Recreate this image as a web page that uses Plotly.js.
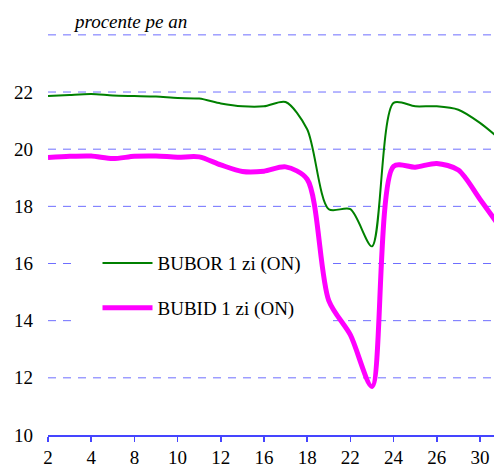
<!DOCTYPE html>
<html>
<head>
<meta charset="utf-8">
<script src="https://cdn.plot.ly/plotly-3.0.1.min.js"></script>
<style>html,body{margin:0;padding:0;background:#fff;}#chart{width:494px;height:469px;}</style>
</head>
<body>
<div id="chart"></div>
<script>
var days = ["2","3","4","7","8","9","10","11","12","15","16","17","18","19","22","23","24","25","26","29","30","31"];
var tickLabels = ["2","4","8","10","12","16","18","22","24","26","30"];
var bubor = [21.86,21.9,21.93,21.88,21.86,21.84,21.79,21.77,21.6,21.5,21.5,21.65,20.7,17.9,17.9,16.6,21.62,21.5,21.5,21.38,20.92,20.3];
var bubid = [19.71,19.75,19.76,19.67,19.75,19.76,19.72,19.73,19.45,19.22,19.23,19.38,18.95,14.7,13.5,11.7,19.4,19.37,19.5,19.27,18.25,17.2];
var yTicks = [10,12,14,16,18,20,22,24];
var yTickText = ["10","12","14","16","18","20","22",""];
var seriesNames = ["BUBOR 1 zi (ON)","BUBID 1 zi (ON)"];
var unitLabel = "procente pe an";

var serif = "Liberation Serif, Times New Roman, serif";
var fs = 19;
var traces = [
  {x: days, y: bubor, name: seriesNames[0], legendgroup: "a", type: "scatter", mode: "lines",
   line: {color: "#008000", width: 2, shape: "spline", smoothing: 0.8}},
  {x: days, y: bubid, name: seriesNames[1], legendgroup: "b", type: "scatter", mode: "lines",
   line: {color: "#ff00ff", width: 5, shape: "spline", smoothing: 0.8}}
];
var shapes = yTicks.slice(1).map(function (v) {
  return {type: "line", layer: "below", xref: "x domain", yref: "y", x0: 0, x1: 1, y0: v, y1: v,
    line: {color: "#6e6eff", width: 1, dash: "8px,7px"}};
});
shapes.push({type: "rect", layer: "below", xref: "x domain", yref: "y domain",
  x0: 0.053, x1: 0.627, y0: 0.22, y1: 0.5, fillcolor: "#ffffff", line: {width: 0}});
var layout = {
  width: 494, height: 469,
  margin: {l: 48, r: 0, t: 34, b: 34},
  paper_bgcolor: "#fff", plot_bgcolor: "#fff",
  showlegend: true,
  font: {family: serif, size: fs, color: "#000"},
  xaxis: {type: "category", range: [0, 20.65], tickmode: "array", tickvals: tickLabels, ticktext: tickLabels,
    showgrid: false, zeroline: false, showline: true, linecolor: "#4545ff", linewidth: 1.5,
    ticks: "outside", ticklen: 5, tickcolor: "#4545ff", tickwidth: 1.5,
    tickfont: {family: serif, size: fs, color: "#000"}, fixedrange: true},
  yaxis: {range: [10, 24.03], tickmode: "array", tickvals: yTicks, ticktext: yTickText,
    showgrid: false, zeroline: false, showline: false, ticks: "", ticklabelstandoff: 14,
    tickfont: {family: serif, size: fs, color: "#000"}, fixedrange: true},
  legend: {x: 0.111, y: 0.3725, xanchor: "left", yanchor: "middle", bgcolor: "rgba(0,0,0,0)",
    font: {family: serif, size: fs, color: "#000"}, itemwidth: 50, tracegroupgap: 17,
    traceorder: "grouped"},
  shapes: shapes,
  annotations: [{text: "<i>" + unitLabel + "</i>", xref: "paper", yref: "paper",
    x: 0.052, y: 1.0, xanchor: "left", yanchor: "bottom", yshift: 0, showarrow: false,
    font: {family: serif, size: fs, color: "#000"}}]
};
Plotly.newPlot("chart", traces, layout, {displayModeBar: false, staticPlot: true});
</script>
</body>
</html>
